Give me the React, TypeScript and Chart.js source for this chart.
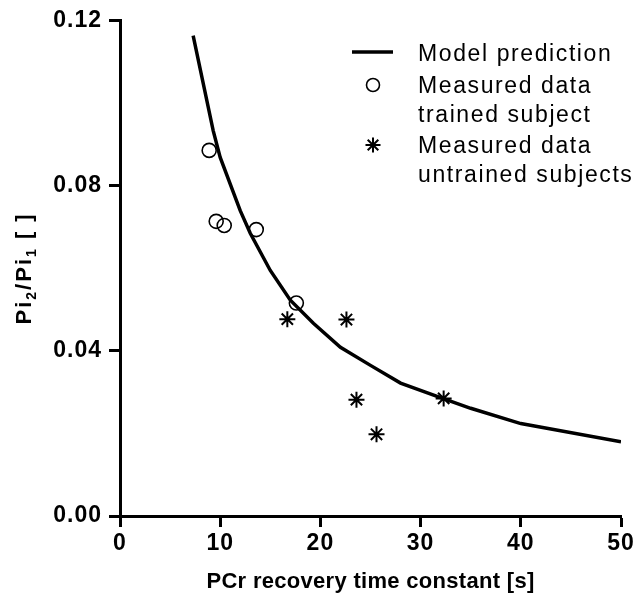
import React, { useEffect, useRef } from "react";
import { Chart, registerables } from "chart.js";

Chart.register(...registerables);

const modelX = [7.3, 9.3, 10.0, 12.0, 13.0, 15.0, 17.0, 19.3, 22.0, 25.0, 28.0, 32.2, 35.0, 40.0, 50.0];
const modelY = [0.1164, 0.0934, 0.0869, 0.074, 0.0685, 0.0595, 0.0523, 0.0467, 0.0409, 0.0365, 0.0322, 0.0285, 0.0261, 0.0224, 0.018];

const trainedX = [8.9, 9.6, 10.4, 13.6, 17.6];
const trainedY = [0.0886, 0.0714, 0.0704, 0.0694, 0.0516];

const untrainedX = [16.7, 22.6, 23.6, 25.6, 32.3];
const untrainedY = [0.0477, 0.0476, 0.0282, 0.0198, 0.0285];

const xTitle = "PCr recovery time constant [s]";
const legendLabels = ["Model prediction", "Measured data", "trained subject", "Measured data", "untrained subjects"];

const FONT = '"Liberation Sans", Arial, sans-serif';

const zip = (xs: number[], ys: number[]) => xs.map((x, i) => ({ x, y: ys[i] }));

function drawStar(ctx: CanvasRenderingContext2D, cx: number, cy: number, r: number) {
  ctx.beginPath();
  for (let k = 0; k < 4; k++) {
    const a = (k * Math.PI) / 4;
    ctx.moveTo(cx - r * Math.cos(a), cy - r * Math.sin(a));
    ctx.lineTo(cx + r * Math.cos(a), cy + r * Math.sin(a));
  }
  ctx.stroke();
}

const decorPlugin = {
  id: "decor",
  beforeDraw(chart: any) {
    (chart.ctx as any).letterSpacing = "1px";
  },
  afterDraw(chart: any) {
    const ctx: CanvasRenderingContext2D = chart.ctx;
    const area = chart.chartArea;
    ctx.save();
    ctx.fillStyle = "#000";
    ctx.strokeStyle = "#000";
    // x title
    (ctx as any).letterSpacing = "0.3px";
    ctx.font = `bold 22px ${FONT}`;
    ctx.textAlign = "center";
    ctx.textBaseline = "alphabetic";
    ctx.fillText(xTitle, (area.left + area.right) / 2, 588);
    // y title with subscripts
    ctx.save();
    (ctx as any).letterSpacing = "2px";
    ctx.translate(31, (area.top + area.bottom) / 2);
    ctx.rotate(-Math.PI / 2);
    const parts: [string, boolean][] = [["Pi", false], ["2", true], ["/Pi", false], ["1", true], [" [ ]", false]];
    const bigF = `bold 22px ${FONT}`;
    const smallF = `bold 14px ${FONT}`;
    let total = 0;
    for (const [t, sub] of parts) {
      ctx.font = sub ? smallF : bigF;
      total += ctx.measureText(t).width;
    }
    let x = -total / 2;
    ctx.textAlign = "left";
    for (const [t, sub] of parts) {
      ctx.font = sub ? smallF : bigF;
      ctx.fillText(t, x, sub ? 5 : 0);
      x += ctx.measureText(t).width;
    }
    ctx.restore();

    // legend
    (ctx as any).letterSpacing = "0px";
    ctx.lineWidth = 3.5;
    ctx.beginPath();
    ctx.moveTo(352, 52);
    ctx.lineTo(393, 52);
    ctx.stroke();
    ctx.lineWidth = 1.6;
    ctx.beginPath();
    ctx.arc(373, 85, 6.5, 0, Math.PI * 2);
    ctx.stroke();
    ctx.lineWidth = 2;
    drawStar(ctx, 373, 145, 7.5);

    ctx.font = `23px ${FONT}`;
    (ctx as any).letterSpacing = "1.6px";
    ctx.textAlign = "left";
    const baselines = [61, 93, 121.5, 153, 181.5];
    legendLabels.forEach((t, i) => ctx.fillText(t, 418, baselines[i]));
    ctx.restore();
    (ctx as any).letterSpacing = "0px";
  },
};

export default function App() {
  const ref = useRef<HTMLCanvasElement>(null);
  useEffect(() => {
    document.body.style.margin = "0";
    const chart = new Chart(ref.current!, {
      type: "scatter",
      data: {
        datasets: [
          {
            type: "line",
            label: "Model prediction",
            data: zip(modelX, modelY),
            borderColor: "#000",
            borderWidth: 3.5,
            pointRadius: 0,
            tension: 0,
            fill: false,
          } as any,
          {
            label: "Measured data trained subject",
            data: zip(trainedX, trainedY),
            pointStyle: "circle",
            pointRadius: 7,
            borderColor: "#000",
            backgroundColor: "rgba(0,0,0,0)",
            borderWidth: 1.6,
          },
          {
            label: "Measured data untrained subjects",
            data: zip(untrainedX, untrainedY),
            pointStyle: "star",
            pointRadius: 8,
            borderColor: "#000",
            backgroundColor: "#000",
            borderWidth: 2,
          },
        ],
      },
      options: {
        animation: false,
        responsive: false,
        devicePixelRatio: 1,
        layout: { padding: { top: 19, right: 18, left: 0, bottom: 0 } },
        plugins: { legend: { display: false }, tooltip: { enabled: false } },
        scales: {
          x: {
            type: "linear",
            min: 0,
            max: 50,
            ticks: { stepSize: 10, color: "#000", font: { family: FONT, size: 23, weight: "bold" }, padding: 3, maxRotation: 0 },
            grid: { drawOnChartArea: false, drawTicks: true, tickLength: 11, tickWidth: 3, tickColor: "#000" },
            border: { display: true, color: "#000", width: 3 },
            afterFit: (s: any) => { s.height = 83; },
          },
          y: {
            type: "linear",
            min: 0,
            max: 0.12,
            ticks: {
              stepSize: 0.04,
              color: "#000",
              font: { family: FONT, size: 23, weight: "bold" },
              padding: 7,
              callback: (v: any) => Number(v).toFixed(2),
            },
            grid: { drawOnChartArea: false, drawTicks: true, tickLength: 11, tickWidth: 3, tickColor: "#000" },
            border: { display: true, color: "#000", width: 3 },
            afterFit: (s: any) => { s.width = 120; },
          },
        },
      },
      plugins: [decorPlugin],
    });
    return () => chart.destroy();
  }, []);
  return <canvas ref={ref} width={639} height={599} style={{ display: "block" }} />;
}
